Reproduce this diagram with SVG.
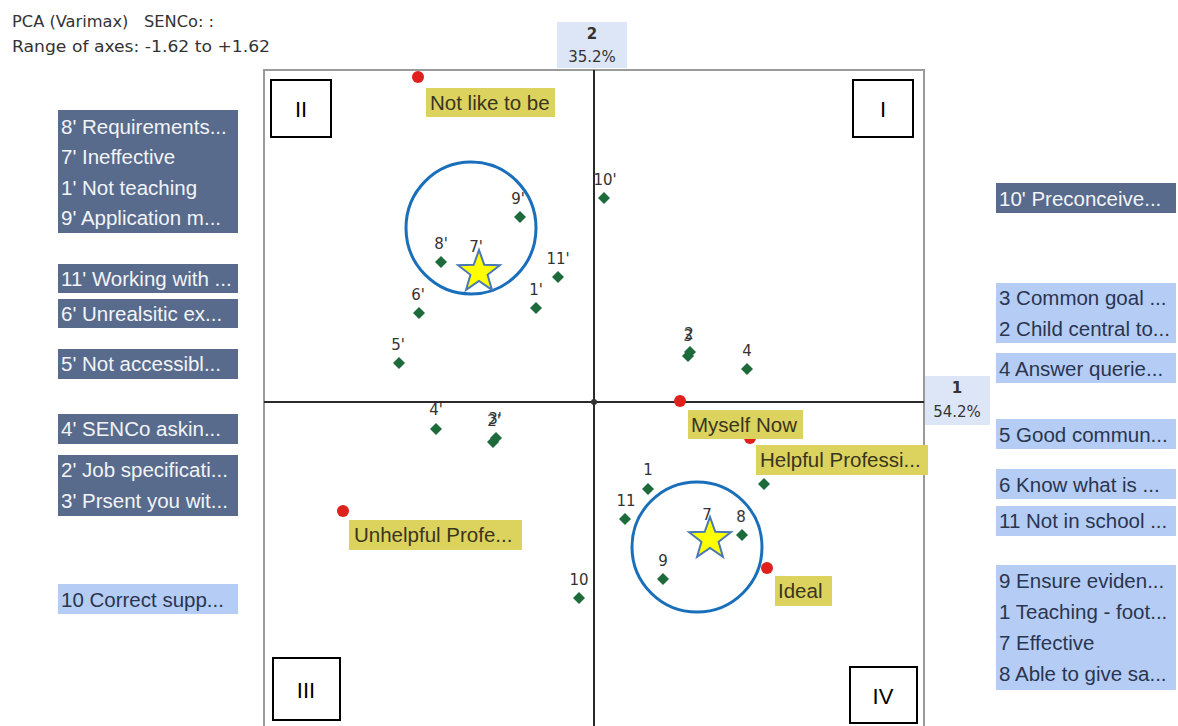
<svg xmlns="http://www.w3.org/2000/svg" width="1178" height="726" viewBox="0 0 1178 726">
<style>
.hdr{font-family:"DejaVu Sans","Liberation Sans",sans-serif;font-size:16px;fill:#333;white-space:pre}
.dk{fill:#586b8c}
.lt{fill:#b5cdf4}
.dkt{font-family:"Liberation Sans",Arial,sans-serif;font-size:20.5px;fill:#f2f4f8}
.ltt{font-family:"Liberation Sans",Arial,sans-serif;font-size:20.5px;fill:#2a3550}
.yl{fill:#dcd35e}
.ylt{font-family:"Liberation Sans",Arial,sans-serif;font-size:20.5px;fill:#3a3520}
.pl{font-family:"DejaVu Sans","Liberation Sans",sans-serif;font-size:15px;fill:#333;text-anchor:middle}
.red{fill:#e0201c}
.q{fill:#fff;stroke:#000;stroke-width:2}
.qt{font-family:"Liberation Sans",Arial,sans-serif;font-size:22px;fill:#000;text-anchor:middle}
.ring{fill:none;stroke:#1a6fba;stroke-width:3}
.star{fill:#ffff00;stroke:#4a78b5;stroke-width:2;stroke-linejoin:miter}
.ax{font-family:"DejaVu Sans","Liberation Sans",sans-serif;font-size:15px;fill:#333;text-anchor:middle}
</style>
<defs>
<path id="dia" d="M0,-6 L6,0 L0,6 L-6,0Z" fill="#1d6b3a"/>
<path id="st" d="M0,-22 L5.29,-7.28 L20.92,-6.8 L8.56,2.78 L12.93,17.8 L0,9 L-12.93,17.8 L-8.56,2.78 L-20.92,-6.8 L-5.29,-7.28Z"/>
</defs>
<rect width="1178" height="726" fill="#fff"/>

<g id="header">
<text class="hdr" x="12" y="27" xml:space="preserve" textLength="202" lengthAdjust="spacingAndGlyphs">PCA (Varimax)   SENCo: :</text>
<text class="hdr" x="12" y="52" textLength="258" lengthAdjust="spacingAndGlyphs">Range of axes: -1.62 to +1.62</text>
</g>

<g id="plot-frame">
<path d="M264,726 V70 H924 V726" fill="none" stroke="#9a9a9a" stroke-width="2"/>
<line x1="264" y1="402" x2="924" y2="402" stroke="#2a2a2a" stroke-width="2"/>
<line x1="594" y1="70" x2="594" y2="726" stroke="#2a2a2a" stroke-width="2"/>
<circle cx="594" cy="402" r="3" fill="#333"/>
</g>

<g id="axis-2">
<rect x="557" y="22" width="70" height="46" fill="#dde6f6"/>
<text class="ax" x="592" y="39" font-weight="bold">2</text>
<text class="ax" x="592" y="62">35.2%</text>
</g>
<g id="axis-1">
<rect x="925" y="376" width="65" height="49" fill="#dde6f6"/>
<text class="ax" x="957" y="393" font-weight="bold">1</text>
<text class="ax" x="957" y="417">54.2%</text>
</g>

<g id="quadrant-II"><rect class="q" x="271" y="80" width="60" height="57"/><text class="qt" x="301" y="117">II</text></g>
<g id="quadrant-I"><rect class="q" x="853" y="80" width="60" height="57"/><text class="qt" x="883" y="117">I</text></g>
<g id="quadrant-III"><rect class="q" x="273" y="658" width="67" height="62"/><text class="qt" x="306" y="698">III</text></g>
<g id="quadrant-IV"><rect class="q" x="850" y="667" width="67" height="56"/><text class="qt" x="883" y="704">IV</text></g>

<g id="left-labels">
<g id="l-group1"><rect class="dk" x="58" y="110" width="180" height="123"/>
<text class="dkt" x="61" y="134">8' Requirements...</text>
<text class="dkt" x="61" y="164">7' Ineffective</text>
<text class="dkt" x="61" y="195">1' Not teaching</text>
<text class="dkt" x="61" y="225">9' Application m...</text></g>
<g id="l-11p"><rect class="dk" x="58" y="264" width="180" height="29"/><text class="dkt" x="61" y="286">11' Working with ...</text></g>
<g id="l-6p"><rect class="dk" x="58" y="299" width="180" height="29"/><text class="dkt" x="61" y="321">6' Unrealsitic ex...</text></g>
<g id="l-5p"><rect class="dk" x="58" y="349" width="180" height="30"/><text class="dkt" x="61" y="371">5' Not accessibl...</text></g>
<g id="l-4p"><rect class="dk" x="58" y="414" width="180" height="30"/><text class="dkt" x="61" y="436">4' SENCo askin...</text></g>
<g id="l-2p3p"><rect class="dk" x="58" y="455" width="180" height="61"/>
<text class="dkt" x="61" y="477">2' Job specificati...</text>
<text class="dkt" x="61" y="508">3' Prsent you wit...</text></g>
<g id="l-10"><rect class="lt" x="58" y="584" width="180" height="30"/><text class="ltt" x="61" y="607">10 Correct supp...</text></g>
</g>

<g id="right-labels">
<g id="r-10p"><rect class="dk" x="996" y="183" width="180" height="30"/><text class="dkt" x="999" y="206">10' Preconceive...</text></g>
<g id="r-3-2"><rect class="lt" x="996" y="283" width="180" height="60"/>
<text class="ltt" x="999" y="305">3 Common goal ...</text>
<text class="ltt" x="999" y="336">2 Child central to...</text></g>
<g id="r-4"><rect class="lt" x="996" y="353" width="180" height="30"/><text class="ltt" x="999" y="376">4 Answer querie...</text></g>
<g id="r-5"><rect class="lt" x="996" y="419" width="180" height="30"/><text class="ltt" x="999" y="442">5 Good commun...</text></g>
<g id="r-6"><rect class="lt" x="996" y="469" width="180" height="30"/><text class="ltt" x="999" y="492">6 Know what is ...</text></g>
<g id="r-11"><rect class="lt" x="996" y="506" width="180" height="30"/><text class="ltt" x="999" y="528">11 Not in school ...</text></g>
<g id="r-9-1-7-8"><rect class="lt" x="996" y="565" width="180" height="125"/>
<text class="ltt" x="999" y="588">9 Ensure eviden...</text>
<text class="ltt" x="999" y="619">1 Teaching - foot...</text>
<text class="ltt" x="999" y="650">7 Effective</text>
<text class="ltt" x="999" y="681">8 Able to give sa...</text></g>
</g>

<g id="circles">
<ellipse class="ring" cx="471" cy="228" rx="65" ry="66"/>
<circle class="ring" cx="697" cy="547" r="65"/>
</g>

<g id="constructs">
<g id="p-9p"><use href="#dia" x="520" y="217"/><text class="pl" x="518" y="204">9'</text></g>
<g id="p-8p"><use href="#dia" x="441" y="262"/><text class="pl" x="441" y="249">8'</text></g>
<g id="p-7p"><use href="#dia" x="478" y="266"/><text class="pl" x="476" y="252">7'</text></g>
<g id="p-11p"><use href="#dia" x="558" y="277"/><text class="pl" x="558" y="264">11'</text></g>
<g id="p-1p"><use href="#dia" x="536" y="308"/><text class="pl" x="536" y="295">1'</text></g>
<g id="p-6p"><use href="#dia" x="419" y="313"/><text class="pl" x="418" y="300">6'</text></g>
<g id="p-5p"><use href="#dia" x="399" y="363"/><text class="pl" x="398" y="350">5'</text></g>
<g id="p-10p"><use href="#dia" x="604" y="198"/><text class="pl" x="605" y="185">10'</text></g>
<g id="p-3-2"><use href="#dia" x="688" y="356"/><use href="#dia" x="690" y="352"/><text class="pl" x="688" y="341">3</text><text class="pl" x="689" y="339">2</text></g>
<g id="p-4"><use href="#dia" x="747" y="369"/><text class="pl" x="747" y="356">4</text></g>
<g id="p-4p"><use href="#dia" x="436" y="429"/><text class="pl" x="436" y="415">4'</text></g>
<g id="p-2p3p"><use href="#dia" x="493" y="442"/><use href="#dia" x="496" y="438"/><text class="pl" x="494" y="426">2'</text><text class="pl" x="495" y="424">3'</text></g>
<g id="p-10"><use href="#dia" x="579" y="598"/><text class="pl" x="579" y="585">10</text></g>
<g id="p-1"><use href="#dia" x="648" y="489"/><text class="pl" x="648" y="475">1</text></g>
<g id="p-11"><use href="#dia" x="625" y="519"/><text class="pl" x="626" y="506">11</text></g>
<g id="p-8"><use href="#dia" x="742" y="535"/><text class="pl" x="741" y="522">8</text></g>
<g id="p-9"><use href="#dia" x="663" y="579"/><text class="pl" x="663" y="566">9</text></g>
<g id="p-7"><use href="#dia" x="709" y="537"/><text class="pl" x="707" y="520">7</text></g>
<g id="p-5-6"><use href="#dia" x="764" y="484"/></g>
</g>

<g id="stars">
<use href="#st" class="star" x="479" y="272"/>
<use href="#st" class="star" x="710" y="539"/>
</g>

<g id="elements">
<g id="e-not-like"><circle class="red" cx="418" cy="77" r="6"/><rect class="yl" x="426" y="88" width="129" height="29"/><text class="ylt" x="430" y="110">Not like to be</text></g>
<g id="e-helpful"><circle class="red" cx="750" cy="438" r="6"/><rect class="yl" x="756" y="445" width="172" height="30"/><text class="ylt" x="760" y="467">Helpful Professi...</text></g>
<g id="e-myself"><circle class="red" cx="680" cy="401" r="6"/><rect class="yl" x="688" y="410" width="115" height="29"/><text class="ylt" x="691" y="432">Myself Now</text></g>
<g id="e-unhelpful"><circle class="red" cx="343" cy="511" r="6"/><rect class="yl" x="349" y="520" width="173" height="30"/><text class="ylt" x="354" y="542">Unhelpful Profe...</text></g>
<g id="e-ideal"><circle class="red" cx="767" cy="568" r="6"/><rect class="yl" x="775" y="576" width="57" height="30"/><text class="ylt" x="778" y="598">Ideal</text></g>
</g>
</svg>
